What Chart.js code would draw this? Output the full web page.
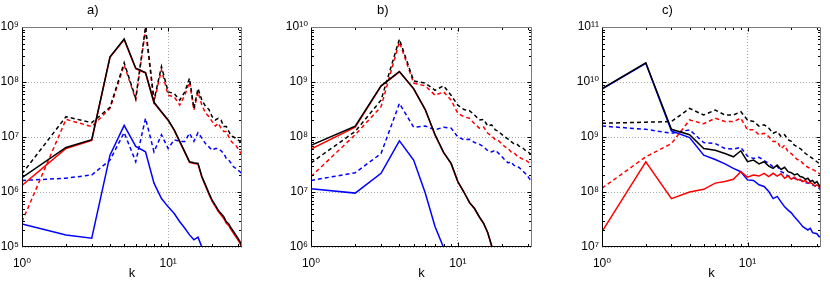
<!DOCTYPE html>
<html><head><meta charset="utf-8">
<script src="https://cdn.jsdelivr.net/npm/chart.js@4/dist/chart.umd.min.js"></script>
<style>
html,body{margin:0;padding:0;background:#fff;}
#wrap{position:relative;width:830px;height:285px;overflow:hidden;background:#fff;}
canvas{position:absolute;top:0;}
.ttl{position:absolute;top:2px;font:13px "Liberation Sans",Arial,sans-serif;color:#000;line-height:16px;}
</style></head><body>
<div id="wrap">
<canvas id="ca" style="left:0px" width="275" height="285"></canvas>
<canvas id="cb" style="left:275px" width="280" height="285"></canvas>
<canvas id="cc" style="left:555px" width="275" height="285"></canvas>
<div class="ttl" style="left:87px">a)</div>
<div class="ttl" style="left:377px">b)</div>
<div class="ttl" style="left:662px">c)</div>
</div>
<script>
// wavenumbers
const K = [1,2,3,4,5,6,7,8,9,10,11,12,13,14,15,16,17,18,19,20,21,22,23,24,25,26,27,28,29,30,31,32];
const X_TICKS = [1, 10];

// ---- panel a ----
const A_Y_TICKS = [1e5, 1e6, 1e7, 1e8, 1e9];
const A_BLACK_SOLID = [1.82e6,6.46e6,8.91e6,2.88e8,6.03e8,1.78e8,1.48e8,4.27e7,2.88e7,2.04e7,1.35e7,8.32e6,5.37e6,3.55e6,3.39e6,3.31e6,1.91e6,1.35e6,9.55e5,7.08e5,5.75e5,4.68e5,4.07e5,3.55e5,2.88e5,2.63e5,2.19e5,1.91e5,1.66e5,1.45e5,1.26e5,1.0e5];
const A_RED_SOLID = [1.32e6,6.17e6,8.71e6,2.82e8,5.89e8,1.74e8,1.45e8,4.17e7,2.82e7,2.0e7,1.32e7,8.13e6,5.25e6,3.47e6,3.31e6,3.24e6,1.86e6,1.29e6,9.12e5,6.76e5,5.5e5,4.47e5,3.8e5,3.31e5,2.69e5,2.45e5,2.04e5,1.78e5,1.55e5,1.35e5,1.17e5,9.3e4];
const A_BLACK_DASH = [2.14e6,2.34e7,1.82e7,3.47e7,2.24e8,5.01e7,1.0e9,4.68e7,1.91e8,6.61e7,6.17e7,4.68e7,6.61e7,1.17e8,3.31e7,7.59e7,4.68e7,3.63e7,3.16e7,2.34e7,2.04e7,2.19e7,2.04e7,1.55e7,1.55e7,1.26e7,1.05e7,1.0e7,9.55e6,8.91e6,8.32e6,7.08e6];
const A_RED_DASH = [2.88e5,2.09e7,1.55e7,3.31e7,2.04e8,4.79e7,8.91e8,4.37e7,1.66e8,5.75e7,5.37e7,3.8e7,5.75e7,1.0e8,3.09e7,6.61e7,3.8e7,2.75e7,2.34e7,1.91e7,1.58e7,1.78e7,1.45e7,1.26e7,1.26e7,1.0e7,8.32e6,7.59e6,7.08e6,6.17e6,5.37e6,4.68e6];
const A_BLUE_SOLID = [2.63e5,1.66e5,1.45e5,4.68e6,1.62e7,6.76e6,5.37e6,1.45e6,7.59e5,5.37e5,4.07e5,2.88e5,2.19e5,1.66e5,1.35e5,1.51e5,1.0e5,7.0e4];
const A_BLUE_DASH = [1.62e6,1.78e6,2.04e6,3.8e6,1.2e7,3.55e6,2.19e7,5.37e6,1.1e7,6.17e6,8.91e6,8.32e6,8.32e6,1.17e7,8.32e6,1.2e7,9.55e6,7.59e6,6.61e6,5.75e6,6.17e6,6.17e6,5.62e6,5.01e6,4.07e6,3.8e6,3.31e6,2.88e6,2.69e6,2.51e6,2.34e6,2.04e6];

// ---- panel b ----
const B_Y_TICKS = [1e6, 1e7, 1e8, 1e9, 1e10];
const B_BLACK_SOLID = [7.08e7,1.58e8,8.51e8,1.55e9,7.59e8,3.16e8,1.1e8,5.25e7,3.31e7,1.55e7,1.0e7,6.46e6,5.01e6,3.55e6,2.69e6,1.82e6,1.05e6,6.31e5];
const B_RED_SOLID = [6.03e7,1.51e8,8.4e8,1.53e9,7.5e8,3.12e8,1.08e8,5.2e7,3.27e7,1.53e7,9.9e6,6.4e6,4.95e6,3.5e6,2.65e6,1.8e6,1.03e6,6.2e5];
const B_BLACK_DASH = [3.39e7,1.26e8,4.68e8,6.03e9,1.05e9,9.55e8,7.08e8,8.51e8,5.75e8,3.8e8,3.16e8,3.02e8,2.51e8,2.04e8,2.09e8,1.58e8,1.66e8,1.35e8,1.26e8,1.1e8,1.0e8,9.12e7,8.32e7,7.59e7,7.59e7,6.92e7,6.46e7,6.17e7,5.62e7,5.37e7,5.01e7,4.68e7];
const B_RED_DASH = [1.91e7,1.1e8,3.55e8,5.37e9,9.55e8,8.51e8,5.75e8,6.61e8,4.68e8,2.69e8,2.34e8,2.19e8,1.74e8,1.45e8,1.51e8,1.17e8,1.05e8,8.91e7,8.51e7,7.41e7,6.61e7,6.17e7,5.37e7,5.25e7,4.68e7,4.37e7,4.07e7,3.89e7,3.8e7,3.55e7,3.31e7,3.09e7];
const B_BLUE_SOLID = [1.15e7,9.55e6,2.19e7,8.51e7,3.8e7,9.55e6,2.34e6,9.8e5,4.0e5];
const B_BLUE_DASH = [1.62e7,2.24e7,5.01e7,4.07e8,1.51e8,1.58e8,1.35e8,1.51e8,1.45e8,1.0e8,8.91e7,9.12e7,7.94e7,7.41e7,6.61e7,5.62e7,5.37e7,5.75e7,5.01e7,4.37e7,3.8e7,3.39e7,3.55e7,3.09e7,2.88e7,2.82e7,2.57e7,2.34e7,2.14e7,1.91e7,1.7e7,1.48e7];

// ---- panel c ----
const C_Y_TICKS = [1e7, 1e8, 1e9, 1e10, 1e11];
const C_BLACK_SOLID = [7.59e9,2.24e10,1.38e9,1.1e9,6.17e8,5.75e8,5.01e8,4.37e8,5.62e8,3.55e8,3.8e8,3.24e8,3.55e8,2.95e8,2.69e8,3.09e8,2.57e8,2.82e8,2.34e8,2.24e8,2.04e8,2.14e8,1.91e8,1.86e8,1.7e8,1.78e8,1.55e8,1.62e8,1.45e8,1.55e8,1.35e8,1.17e8];
const C_RED_SOLID = [1.91e7,3.55e8,7.59e7,1.0e8,1.12e8,1.45e8,1.55e8,1.7e8,2.34e8,1.86e8,2.04e8,1.95e8,2.19e8,1.91e8,2.19e8,1.95e8,2.14e8,1.78e8,1.95e8,1.7e8,1.86e8,1.66e8,1.7e8,1.55e8,1.62e8,1.45e8,1.48e8,1.41e8,1.29e8,1.35e8,1.26e8,1.0e8];
const C_BLACK_DASH = [1.78e9,1.86e9,1.91e9,3.31e9,2.51e9,3.09e9,2.51e9,2.51e9,2.88e9,2.04e9,1.91e9,1.58e9,1.66e9,1.45e9,1.17e9,1.26e9,1.02e9,1.1e9,8.91e8,8.32e8,7.08e8,6.61e8,6.17e8,5.62e8,5.01e8,4.68e8,4.37e8,4.07e8,3.8e8,3.55e8,3.31e8,3.02e8];
const C_RED_DASH = [1.17e8,4.37e8,7.59e8,2.04e9,1.74e9,2.19e9,1.91e9,1.91e9,2.19e9,1.35e9,1.35e9,1.1e9,1.17e9,1.02e9,8.32e8,8.32e8,6.17e8,7.08e8,5.37e8,5.01e8,4.37e8,3.89e8,3.8e8,3.31e8,3.02e8,2.82e8,2.69e8,2.57e8,2.45e8,2.29e8,2.19e8,2.04e8];
const C_BLUE_SOLID = [7.41e9,2.19e10,1.29e9,9.77e8,4.68e8,3.89e8,3.24e8,2.69e8,2.34e8,1.66e8,1.62e8,1.35e8,1.26e8,1.02e8,7.59e7,8.32e7,6.61e7,5.37e7,4.68e7,4.17e7,3.55e7,3.09e7,2.69e7,2.34e7,2.19e7,2.04e7,2.19e7,1.82e7,1.78e7,1.74e7,1.55e7,1.51e7];
const C_BLUE_DASH = [1.58e9,1.38e9,1.17e9,1.35e9,7.94e8,7.59e8,6.17e8,6.03e8,6.46e8,4.47e8,4.07e8,4.27e8,3.72e8,3.31e8,2.88e8,2.95e8,2.34e8,2.19e8,1.95e8,1.91e8,1.78e8,1.7e8,1.66e8,1.55e8,1.48e8,1.45e8,1.41e8,1.35e8,1.29e8,1.26e8,1.17e8,1.1e8];

const FONT = '"Liberation Sans", Arial, Helvetica, "DejaVu Sans", sans-serif';
const SUP = ['⁰','¹','²','³','⁴','⁵','⁶','⁷','⁸','⁹'];
function supStr(n){ return String(n).split('').map(c => SUP[+c]).join(''); }
function isDecade(v){ if (!(v > 0)) return false; const e = Math.log10(v); return Math.abs(e - Math.round(e)) < 1e-6; }
function decadeLabel(v){ return isDecade(v) ? '10' + supStr(Math.round(Math.log10(v))) : ''; }
function pts(vals){ return vals.map((v, i) => ({x: K[i], y: v})); }

const boxPlugin = {
  id: 'matlabBox',
  afterDraw(chart) {
    const {ctx, chartArea: a, scales} = chart;
    const xs = scales.x, ys = scales.y;
    const L = Math.round(a.left) + 0.5, R = Math.round(a.right) - 0.5;
    const T = Math.round(a.top) + 0.5, B = Math.round(a.bottom) - 0.5;
    ctx.save();
    ctx.lineWidth = 1;
    ctx.strokeStyle = '#000';
    ctx.beginPath();
    const minor = (scale) => {
      const out = [];
      const lo = Math.floor(Math.log10(scale.min)), hi = Math.ceil(Math.log10(scale.max));
      for (let d = lo; d <= hi; d++) for (let m = 1; m <= 9; m++) {
        const v = m * Math.pow(10, d);
        if (v > scale.min * 1.0001 && v < scale.max * 0.9999) out.push({v, major: m === 1});
      }
      return out;
    };
    minor(xs).forEach(t => {
      const px = Math.round(xs.getPixelForValue(t.v)) + 0.5;
      const len = t.major ? 4 : 2.5;
      ctx.moveTo(px, B); ctx.lineTo(px, B - len);
      ctx.moveTo(px, T); ctx.lineTo(px, T + len);
    });
    minor(ys).forEach(t => {
      const py = Math.round(ys.getPixelForValue(t.v)) + 0.5;
      const len = t.major ? 4 : 2.5;
      ctx.moveTo(L, py); ctx.lineTo(L + len, py);
      ctx.moveTo(R, py); ctx.lineTo(R - len, py);
    });
    ctx.stroke();
    ctx.strokeStyle = '#000';
    ctx.beginPath();
    ctx.moveTo(L, T); ctx.lineTo(L, B); ctx.lineTo(R, B);
    ctx.stroke();
    ctx.strokeStyle = '#7a7a7a';
    ctx.beginPath();
    ctx.moveTo(L, T); ctx.lineTo(R, T); ctx.lineTo(R, B);
    ctx.stroke();
    ctx.restore();
  }
};

function ds(label, vals, color, dashed){
  return {label, data: pts(vals), borderColor: color, backgroundColor: color,
    borderWidth: 1.5, borderDash: dashed ? [4, 3] : [], pointRadius: 0, tension: 0, fill: false};
}

function makeChart(id, yTicks, padLeftAxis, padRight, series){
  const gridColor = (c) => (c.tick && isDecade(c.tick.value)) ? '#a8a8a8' : 'rgba(0,0,0,0)';
  return new Chart(document.getElementById(id), {
    type: 'line',
    data: { datasets: series },
    options: {
      responsive: false, animation: false, events: [],
      layout: { padding: { top: 27, right: padRight, left: 0, bottom: 0 } },
      plugins: { legend: { display: false }, tooltip: { enabled: false }, title: { display: false } },
      scales: {
        x: {
          type: 'logarithmic', min: X_TICKS[0], max: 32,
          afterFit: (s) => { s.height = 38; },
          grid: { color: gridColor, lineWidth: 1, drawTicks: false },
          border: { display: false, dash: [1, 2] },
          ticks: { autoSkip: false, maxRotation: 0, padding: 9, color: '#000',
            font: { family: FONT, size: 12 }, callback: (v) => decadeLabel(v) },
          title: { display: true, text: 'k', color: '#000', font: { family: FONT, size: 13 }, padding: { top: 0, bottom: 4 } }
        },
        y: {
          type: 'logarithmic', min: yTicks[0], max: yTicks[yTicks.length - 1],
          afterFit: (s) => { s.width = padLeftAxis; },
          grid: { color: gridColor, lineWidth: 1, drawTicks: false },
          border: { display: false, dash: [1, 2] },
          ticks: { autoSkip: false, padding: 3, color: '#000',
            font: { family: FONT, size: 12 }, callback: (v) => decadeLabel(v) }
        }
      }
    },
    plugins: [boxPlugin]
  });
}

makeChart('ca', A_Y_TICKS, 22, 33, [
  ds('total (dashed)', A_BLACK_DASH, '#000000', true),
  ds('total', A_BLACK_SOLID, '#000000', false),
  ds('red (dashed)', A_RED_DASH, '#ff0000', true),
  ds('red', A_RED_SOLID, '#ff0000', false),
  ds('blue (dashed)', A_BLUE_DASH, '#0000ff', true),
  ds('blue', A_BLUE_SOLID, '#0000ff', false)
]);
makeChart('cb', B_Y_TICKS, 36, 23, [
  ds('total (dashed)', B_BLACK_DASH, '#000000', true),
  ds('total', B_BLACK_SOLID, '#000000', false),
  ds('red (dashed)', B_RED_DASH, '#ff0000', true),
  ds('red', B_RED_SOLID, '#ff0000', false),
  ds('blue (dashed)', B_BLUE_DASH, '#0000ff', true),
  ds('blue', B_BLUE_SOLID, '#0000ff', false)
]);
makeChart('cc', C_Y_TICKS, 47, 8, [
  ds('total (dashed)', C_BLACK_DASH, '#000000', true),
  ds('total', C_BLACK_SOLID, '#000000', false),
  ds('red (dashed)', C_RED_DASH, '#ff0000', true),
  ds('red', C_RED_SOLID, '#ff0000', false),
  ds('blue (dashed)', C_BLUE_DASH, '#0000ff', true),
  ds('blue', C_BLUE_SOLID, '#0000ff', false)
]);
</script>
</body></html>
